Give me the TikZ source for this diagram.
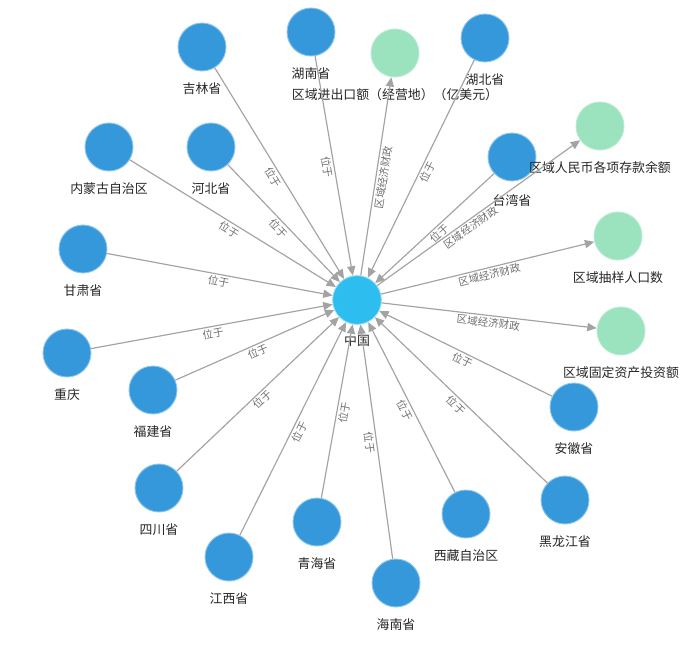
\documentclass[tikz,border=0pt]{standalone}
\usepackage{fontspec}
\setmainfont{Noto Sans CJK SC}
\usetikzlibrary{positioning,arrows.meta}
\definecolor{provblue}{HTML}{3498DB}
\definecolor{chinacyan}{HTML}{2DBDEE}
\definecolor{measgreen}{HTML}{9BE3BF}
\definecolor{edgegray}{HTML}{A3A3A3}
\definecolor{lblgray}{HTML}{6E6E6E}
\tikzset{
  prov/.style={circle, fill=provblue, draw=provblue!55!white, line width=0.8pt, minimum size=1.44cm, inner sep=0pt},
  hub/.style={circle, fill=chinacyan, draw=chinacyan!55!white, line width=0.8pt, minimum size=1.46cm, inner sep=0pt},
  meas/.style={circle, fill=measgreen, draw=measgreen!70!white, line width=0.8pt, minimum size=1.44cm, inner sep=0pt},
  nodetext/.style={font=\fontsize{11}{12}\selectfont, text=black!85, inner sep=1pt},
  rel/.style={draw=edgegray, line width=1pt, -{Triangle[length=8pt,width=7pt]}},
  lbl/.style={midway, sloped, below, font=\fontsize{9}{10}\selectfont, text=lblgray, inner sep=1.5pt}
}
\begin{document}
\begin{tikzpicture}[x=0.03cm, y=-0.03cm]
                \useasboundingbox (0,0) rectangle (700,645);

                % Centre
                \node[hub] (china) at (357,300) {};
                \node[nodetext, below=0.24cm of china] (chinalbl) {中国};

                % Provinces
                \node[prov] (jilin) at (202,47) {};
                \node[nodetext, below=0.28cm of jilin] (jilinlbl) {吉林省};
                \node[prov] (hunan) at (311,32) {};
                \node[nodetext, below=0.28cm of hunan] (hunanlbl) {湖南省};
                \node[prov] (hubei) at (485,38) {};
                \node[nodetext, below=0.28cm of hubei] (hubeilbl) {湖北省};
                \node[prov] (neimeng) at (109,147) {};
                \node[nodetext, below=0.28cm of neimeng] (neimenglbl) {内蒙古自治区};
                \node[prov] (hebei) at (211,147) {};
                \node[nodetext, below=0.28cm of hebei] (hebeilbl) {河北省};
                \node[prov] (taiwan) at (512,157) {};
                \node[nodetext, below=0.34cm of taiwan] (taiwanlbl) {台湾省};
                \node[prov] (gansu) at (83,249) {};
                \node[nodetext, below=0.28cm of gansu] (gansulbl) {甘肃省};
                \node[prov] (chongqing) at (67,353) {};
                \node[nodetext, below=0.28cm of chongqing] (chongqinglbl) {重庆};
                \node[prov] (fujian) at (153,390) {};
                \node[nodetext, below=0.28cm of fujian] (fujianlbl) {福建省};
                \node[prov] (anhui) at (574,407) {};
                \node[nodetext, below=0.28cm of anhui] (anhuilbl) {安徽省};
                \node[prov] (sichuan) at (159,488) {};
                \node[nodetext, below=0.28cm of sichuan] (sichuanlbl) {四川省};
                \node[prov] (heilong) at (565,500) {};
                \node[nodetext, below=0.28cm of heilong] (heilonglbl) {黑龙江省};
                \node[prov] (xizang) at (466,514) {};
                \node[nodetext, below=0.28cm of xizang] (xizanglbl) {西藏自治区};
                \node[prov] (qinghai) at (317,522) {};
                \node[nodetext, below=0.28cm of qinghai] (qinghailbl) {青海省};
                \node[prov] (jiangxi) at (229,557) {};
                \node[nodetext, below=0.28cm of jiangxi] (jiangxilbl) {江西省};
                \node[prov] (hainan) at (396,583) {};
                \node[nodetext, below=0.28cm of hainan] (hainanlbl) {海南省};

                % Indicators
                \node[meas] (trade) at (395,53) {};
                \node[nodetext, below=0.28cm of trade] (tradelbl) {区域进出口额（经营地）（亿美元）};
                \node[meas] (deposit) at (600,126) {};
                \node[nodetext, below=0.28cm of deposit] (depositlbl) {区域人民币各项存款余额};
                \node[meas] (sample) at (618,236) {};
                \node[nodetext, below=0.28cm of sample] (samplelbl) {区域抽样人口数};
                \node[meas] (invest) at (621,331) {};
                \node[nodetext, below=0.28cm of invest] (investlbl) {区域固定资产投资额};

                % Located in
                \draw[rel] (jilin) -- node[lbl] {位于} (china);
                \draw[rel] (hunan) -- node[lbl] {位于} (china);
                \draw[rel] (hubei) -- node[lbl] {位于} (china);
                \draw[rel] (neimeng) -- node[lbl] {位于} (china);
                \draw[rel] (hebei) -- node[lbl] {位于} (china);
                \draw[rel] (taiwan) -- node[lbl] {位于} (china);
                \draw[rel] (gansu) -- node[lbl] {位于} (china);
                \draw[rel] (chongqing) -- node[lbl] {位于} (china);
                \draw[rel] (fujian) -- node[lbl] {位于} (china);
                \draw[rel] (anhui) -- node[lbl] {位于} (china);
                \draw[rel] (sichuan) -- node[lbl] {位于} (china);
                \draw[rel] (heilong) -- node[lbl] {位于} (china);
                \draw[rel] (xizang) -- node[lbl] {位于} (china);
                \draw[rel] (qinghai) -- node[lbl] {位于} (china);
                \draw[rel] (jiangxi) -- node[lbl] {位于} (china);
                \draw[rel] (hainan) -- node[lbl] {位于} (china);

                % Regional economy and finance
                \draw[rel] (china) -- node[lbl] {区域经济财政} (trade);
                \draw[rel] (china) -- node[lbl, pos=0.44] {区域经济财政} (deposit);
                \draw[rel] (china) -- node[lbl] {区域经济财政} (sample);
                \draw[rel] (china) -- node[lbl] {区域经济财政} (invest);
            \end{tikzpicture}
\end{document}
